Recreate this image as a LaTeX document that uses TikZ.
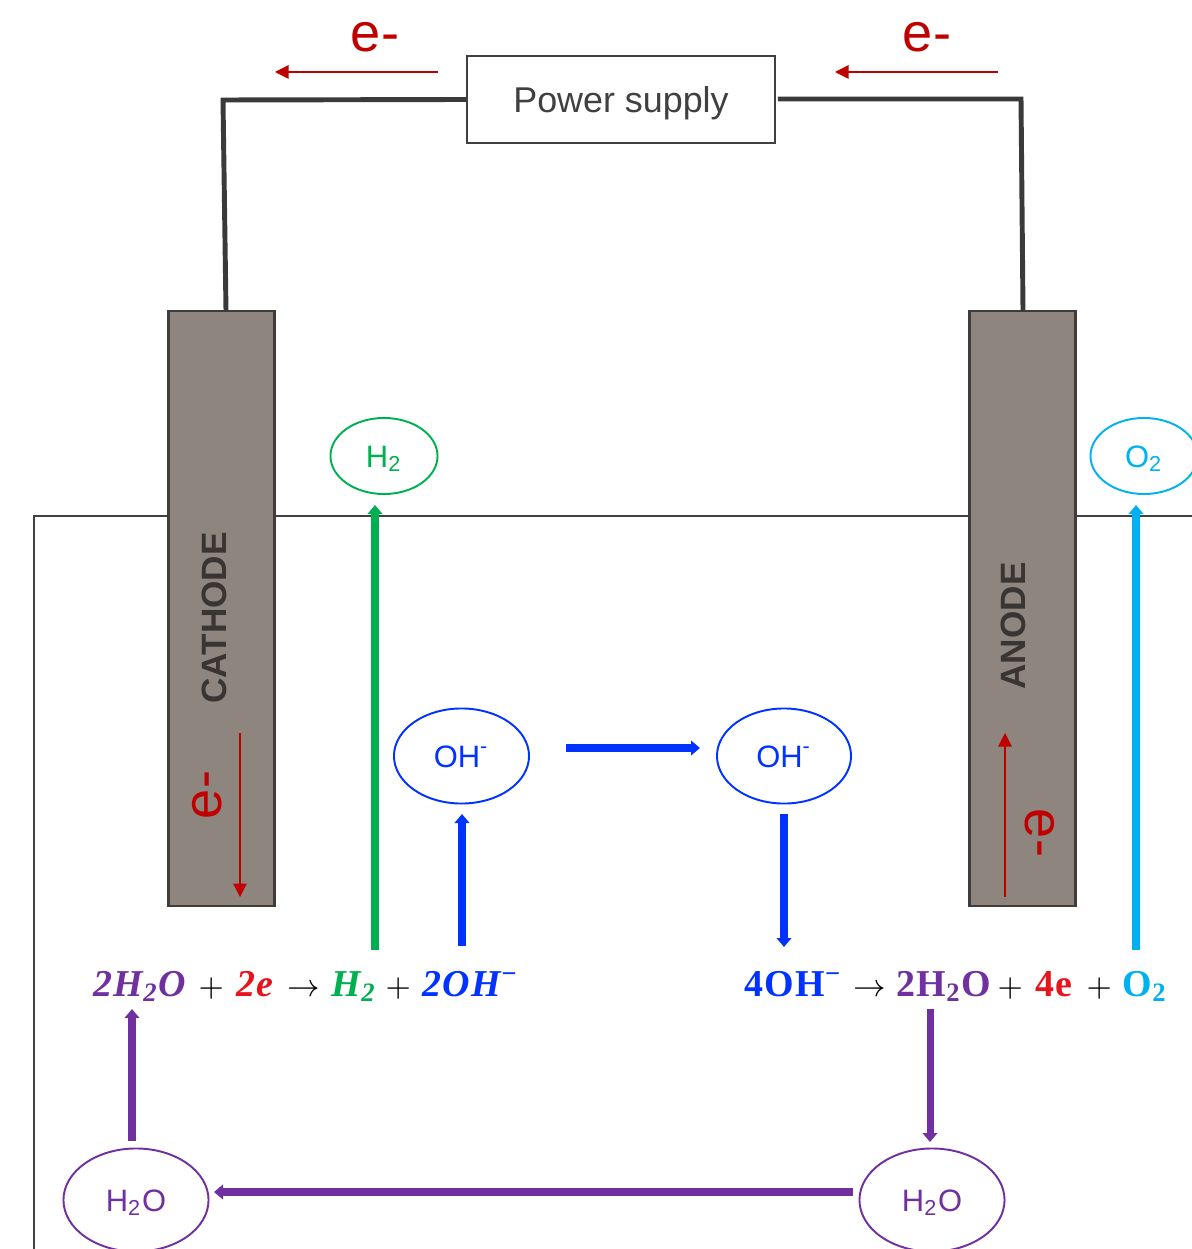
\documentclass[tikz,border=0pt]{standalone}
\usepackage{fontspec}
\setmainfont{Liberation Sans}
\newfontfamily\eqfont[LetterSpace=3]{Liberation Serif}
\usetikzlibrary{shapes,arrows.meta,positioning,calc}
\definecolor{wirecol}{HTML}{3A3A3A}
\definecolor{rodcol}{HTML}{8E857E}
\definecolor{rededge}{HTML}{C00000}
\definecolor{eqred}{HTML}{E8141C}
\definecolor{hgreen}{HTML}{00B050}
\definecolor{ionblue}{HTML}{0033FF}
\definecolor{oxcyan}{HTML}{00B0F0}
\definecolor{wpurple}{HTML}{7030A0}
\tikzset{
    gasball/.style={draw=#1, text=#1, ellipse, line width=0.55pt, inner sep=0pt, text height=6.4pt, text depth=0pt, font=\fontsize{8.8}{10}\selectfont},
    rod/.style={draw=black!55!rodcol, fill=rodcol, line width=0.6pt, minimum width=1.06cm, minimum height=5.95cm, inner sep=0pt},
    rodname/.style={text=black!60!rodcol, font=\fontsize{10}{12}\selectfont\bfseries},
    wire/.style={wirecol, line width=1.4pt},
    eflow/.style={rededge, line width=0.3pt, -{Triangle[length=1.35mm,width=1.35mm]}},
    eletter/.style={text=rededge, font=\fontsize{15.4}{18}\selectfont},
    species/.style={#1, line width=2pt, -{Triangle[length=0.9mm,width=1.45mm]}},
    eqn/.style={anchor=base west, inner sep=0pt, font=\fontsize{10.8}{12}\selectfont\eqfont\bfseries},
    eqsign/.style={anchor=base west, inner sep=0pt, text=black, font=\fontsize{9.5}{12}\selectfont}
}
\begin{document}
\begin{tikzpicture}[x=0.01cm,y=-0.01cm]
    \useasboundingbox (0,0) rectangle (1192,1249);
    \clip (0,0) rectangle (1192,1249);
    % Electrolyte tank
    \draw[black!75, line width=0.4pt] (34,1249) -- (34,516) -- (1192,516);
    % Electrodes
    \node[rod] (cathode) at (221.5,608.5) {};
    \node[rod] (anode) at (1022.5,608.5) {};
    \node[rodname, rotate=90] (cathodename) at (214,618) {CATHODE};
    \node[rodname, rotate=90] (anodename) at (1013,626) {ANODE};
    % Power supply and wires
    \node[draw=black!75, line width=0.5pt, minimum width=3.08cm, minimum height=0.87cm, inner sep=0pt, text=black!75, text height=7.2pt, text depth=0pt, font=\fontsize{10.2}{12}\selectfont] (supply) at (621,99.5) {Power\;supply};
    \coordinate (cathodetop) at (226,311);
    \coordinate (cathodebend) at (223,100);
    \coordinate (anodetop) at (1023,311);
    \coordinate (anodebend) at (1021,99);
    \draw[wire] (supply.west) -- (cathodebend) -- (cathodetop);
    \draw[wire, shorten <=0.02cm] (supply.east |- anodebend) -- (anodebend) -- (anodetop);
    % Electron flow
    \coordinate (ea1) at (438,72);
    \coordinate (ea2) at (275,72);
    \coordinate (eb1) at (998,72);
    \coordinate (eb2) at (835,72);
    \coordinate (ec1) at (240,733);
    \coordinate (ec2) at (240,897);
    \coordinate (ed1) at (1005,897);
    \coordinate (ed2) at (1005,733);
    \foreach \a/\b in {ea1/ea2,eb1/eb2,ec1/ec2,ed1/ed2} {
        \draw[eflow] (\a) -- (\b);
    }
    \node[eletter] (eleft) at (375,37) {e-};
    \node[eletter] (eright) at (927,37) {e-};
    \node[eletter, rotate=90] (ecathode) at (207,795) {e-};
    \node[eletter, rotate=-90] (eanode) at (1040,833) {e-};
    % Gases and ions
    \node[gasball=hgreen, minimum width=1.07cm, minimum height=0.76cm] (htwo) at (384,456) {H\textsubscript{2}};
    \node[gasball=oxcyan, minimum width=1.07cm, minimum height=0.76cm] (otwo) at (1144,456) {O\textsubscript{2}};
    \node[gasball=ionblue, minimum width=1.35cm, minimum height=0.95cm] (ohleft) at (461.5,756) {OH\textsuperscript{-}};
    \node[gasball=ionblue, minimum width=1.34cm, minimum height=0.95cm] (ohright) at (784,756) {OH\textsuperscript{-}};
    \node[gasball=wpurple, minimum width=1.45cm, minimum height=1.03cm] (waterleft) at (136,1200) {H\textsubscript{2}O};
    \node[gasball=wpurple, minimum width=1.45cm, minimum height=1.03cm] (waterright) at (932,1200) {H\textsubscript{2}O};
    % Half reaction at the cathode
    \node[eqn, text=wpurple] (cwater) at (93,996) {\itshape 2H\textsubscript{2}O};
    \node[eqsign] (cplusa) at (198,996) {$+$};
    \node[eqn, text=eqred] (celectron) at (236,996) {\itshape 2e};
    \node[eqsign] (carrow) at (287,996) {$\rightarrow$};
    \node[eqn, text=hgreen] (chydrogen) at (331,996) {\itshape H\textsubscript{2}};
    \node[eqsign] (cplusb) at (385,996) {$+$};
    \node[eqn, text=ionblue] (chydroxide) at (422,996) {\itshape 2OH\textsuperscript{−}};
    % Half reaction at the anode
    \node[eqn, text=ionblue] (ahydroxide) at (744,996) {4OH\textsuperscript{−}};
    \node[eqsign] (aarrow) at (853,996) {$\rightarrow$};
    \node[eqn, text=wpurple] (awater) at (896,996) {2H\textsubscript{2}O};
    \node[eqsign] (aplusa) at (997,996) {$+$};
    \node[eqn, text=eqred] (aelectron) at (1035,996) {4e};
    \node[eqsign] (aplusb) at (1086,996) {$+$};
    \node[eqn, text=oxcyan] (aoxygen) at (1122,996) {O\textsubscript{2}};
    % Species arrows
    \coordinate (gs) at (375,950);
    \coordinate (gt) at (375,505);
    \coordinate (cs) at (1136,950);
    \coordinate (ct) at (1136,505);
    \coordinate (bs) at (462,946);
    \coordinate (bt) at (462,814);
    \coordinate (ms) at (566,748);
    \coordinate (mt) at (700,748);
    \coordinate (ds) at (784,814);
    \coordinate (dt) at (784,947);
    \coordinate (ps) at (132,1141);
    \coordinate (pt) at (132,1009);
    \coordinate (qs) at (930,1009);
    \coordinate (qt) at (930,1142);
    \coordinate (rs) at (853,1192);
    \coordinate (rt) at (214,1192);
    \draw[species=hgreen, line width=2.5pt] (gs) -- (gt);
    \draw[species=oxcyan, line width=2.5pt] (cs) -- (ct);
    \foreach \a/\b in {bs/bt,ms/mt,ds/dt} {
        \draw[species=ionblue] (\a) -- (\b);
    }
    \foreach \a/\b in {ps/pt,qs/qt,rs/rt} {
        \draw[species=wpurple] (\a) -- (\b);
    }
\end{tikzpicture}
\end{document}
